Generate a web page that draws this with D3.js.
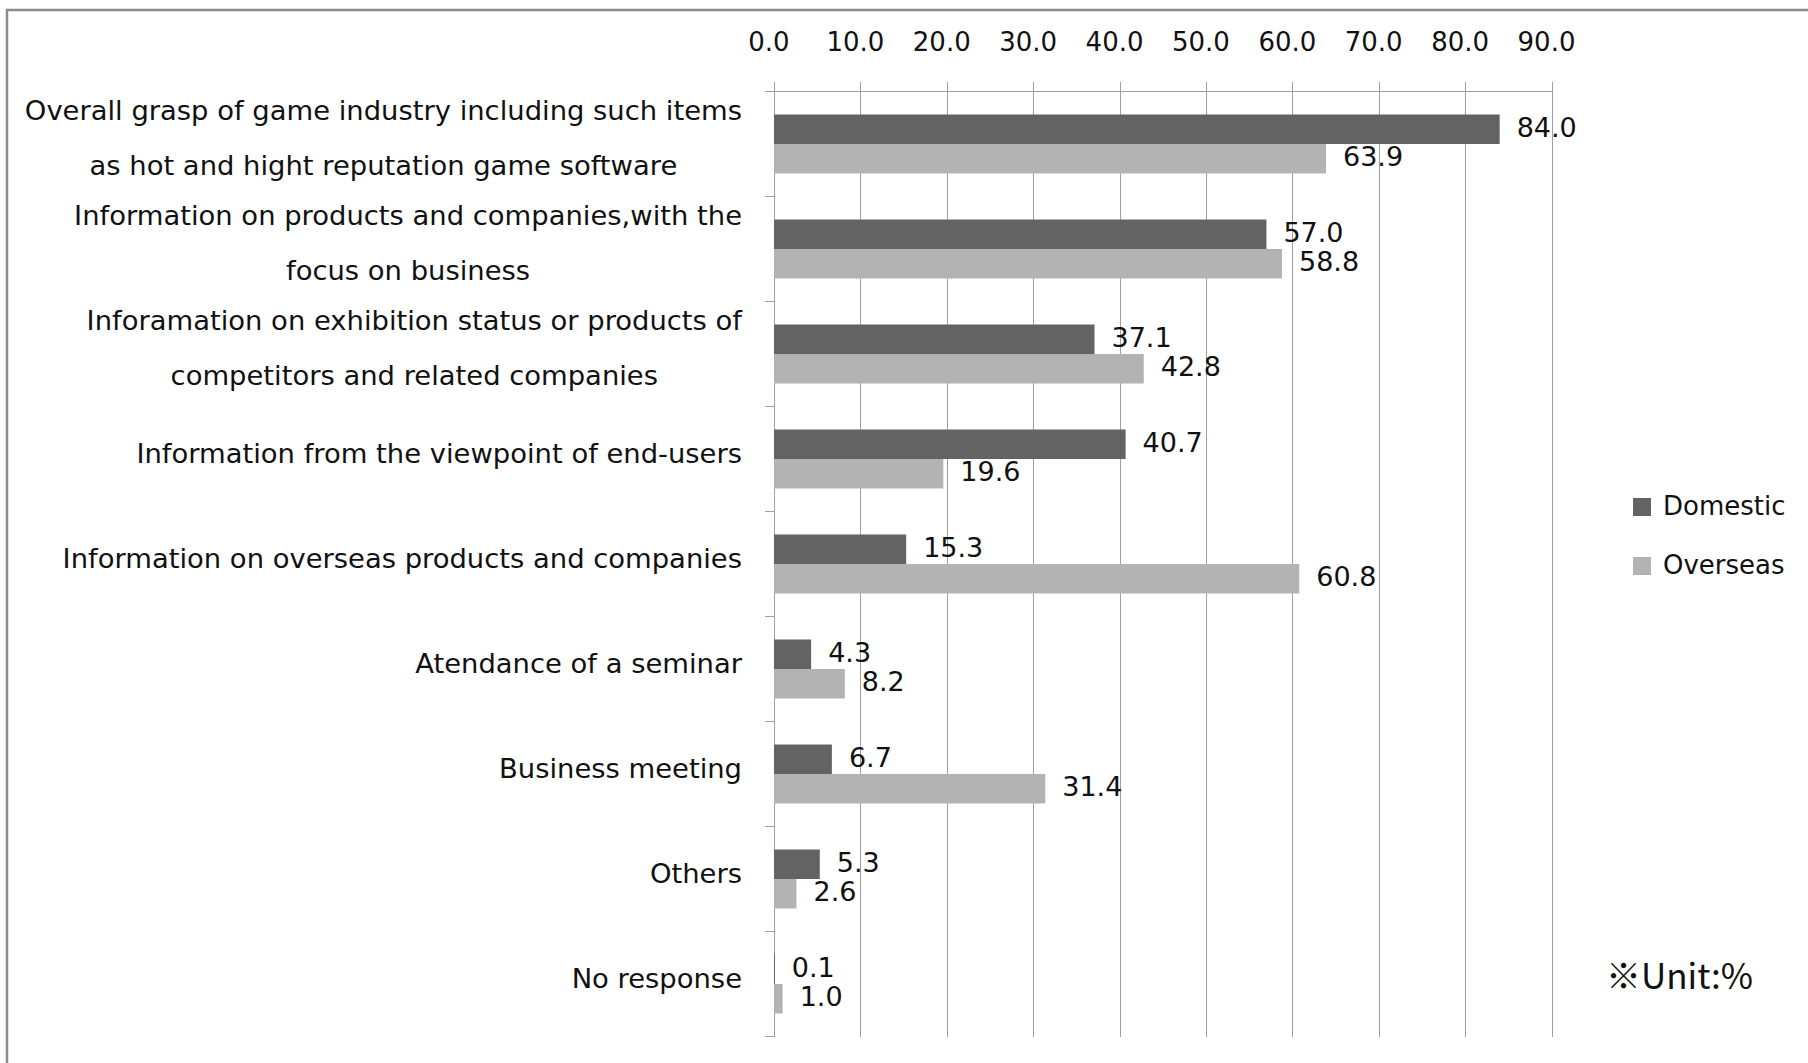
<!DOCTYPE html>
<html>
<head>
<meta charset="utf-8">
<script src="https://cdn.jsdelivr.net/npm/d3@7"></script>
<style>
  html, body { margin: 0; padding: 0; background: #fff; }
  svg { display: block; }
  text { font-family: "DejaVu Sans", sans-serif; fill: #111; }
</style>
</head>
<body>
<svg id="chart" width="1808" height="1063"></svg>
<script>
// Purpose of visiting the show, by visitor type (%)
const categories = [
  "Overall grasp of game industry including such items\nas hot and hight reputation game software",
  "Information on products and companies,with the\nfocus on business",
  "Inforamation on exhibition status or products of\ncompetitors and related companies",
  "Information from the viewpoint of end-users",
  "Information on overseas products and companies",
  "Atendance of a seminar",
  "Business meeting",
  "Others",
  "No response"
];
const seriesNames = ["Domestic", "Overseas"];
const domestic = [84.0, 57.0, 37.1, 40.7, 15.3, 4.3, 6.7, 5.3, 0.1];
const overseas = [63.9, 58.8, 42.8, 19.6, 60.8, 8.2, 31.4, 2.6, 1.0];
const tickValues = [0, 10, 20, 30, 40, 50, 60, 70, 80, 90];
const unitNote = "※Unit:%";

const colors = { Domestic: "#636363", Overseas: "#b3b3b3" };
const seriesValues = { Domestic: domestic, Overseas: overseas };

const svg = d3.select("#chart");
const W = 1808, H = 1063;
svg.append("rect").attr("width", W).attr("height", H).attr("fill", "#fff");

// outer frame (left and top edges visible)
svg.append("rect")
  .attr("x", 7).attr("y", 10).attr("width", W + 20).attr("height", H + 20)
  .attr("fill", "none").attr("stroke", "#8c8c8c").attr("stroke-width", 2.5);

const plot = { left: 774, right: 1551.5, top: 91.5, bottom: 1036.5 };

const x = d3.scaleLinear().domain([0, 90]).range([plot.left, plot.right]);
const pad = 46 / 105;
const y = d3.scaleBand().domain(categories).range([plot.top, plot.bottom])
  .paddingInner(pad).paddingOuter(pad / 2);
const ySub = d3.scaleBand().domain(seriesNames).range([0, y.bandwidth()]);

// vertical gridlines with small tick marks above the top axis
svg.append("g")
  .attr("shape-rendering", "crispEdges")
  .selectAll("line").data(tickValues).join("line")
  .attr("x1", d => Math.round(x(d)) + 0.5).attr("x2", d => Math.round(x(d)) + 0.5)
  .attr("y1", plot.top - 10).attr("y2", plot.bottom)
  .attr("stroke", "#a0a0a0").attr("stroke-width", 1.2);

// top axis line
svg.append("line")
  .attr("shape-rendering", "crispEdges")
  .attr("x1", plot.left - 9).attr("x2", plot.right)
  .attr("y1", plot.top).attr("y2", plot.top)
  .attr("stroke", "#a0a0a0").attr("stroke-width", 1.2);

// category tick marks on the value-zero axis
const boundaries = d3.range(categories.length + 1).map(i => plot.top + i * y.step());
svg.append("g")
  .attr("shape-rendering", "crispEdges")
  .selectAll("line").data(boundaries).join("line")
  .attr("x1", plot.left - 9).attr("x2", plot.left)
  .attr("y1", d => d).attr("y2", d => d)
  .attr("stroke", "#a0a0a0").attr("stroke-width", 1.2);

// tick labels along the top
svg.append("g").selectAll("text").data(tickValues).join("text")
  .attr("x", d => x(d) - 5).attr("y", 42)
  .attr("text-anchor", "middle").attr("dominant-baseline", "central")
  .attr("font-size", 26)
  .text(d => d3.format(".1f")(d));

// bars
const groups = svg.append("g").selectAll("g").data(categories).join("g")
  .attr("transform", d => `translate(0,${y(d)})`);

groups.selectAll("rect")
  .data((d, i) => seriesNames.map(s => ({ s, v: seriesValues[s][i] })))
  .join("rect")
  .attr("x", x(0))
  .attr("y", d => ySub(d.s))
  .attr("width", d => Math.max(1, x(d.v) - x(0)))
  .attr("height", ySub.bandwidth())
  .attr("fill", d => colors[d.s]);

// value labels
groups.selectAll("text.val")
  .data((d, i) => seriesNames.map(s => ({ s, v: seriesValues[s][i] })))
  .join("text").attr("class", "val")
  .attr("x", d => x(d.v) + 17)
  .attr("y", d => ySub(d.s) + ySub.bandwidth() / 2 - 2)
  .attr("dominant-baseline", "central")
  .attr("font-size", 27)
  .text(d => d3.format(".1f")(d.v));

// category labels: lines centred within a block right-aligned to the axis
const labelRight = 742;
const lineGap = 55.5;
categories.forEach(c => {
  const lines = c.split("\n");
  const cy = y(c) + y.bandwidth() / 2 - 6;
  const g = svg.append("g");
  const texts = lines.map((ln, k) => g.append("text")
    .attr("y", cy + (k - (lines.length - 1) / 2) * lineGap)
    .attr("dominant-baseline", "central")
    .attr("text-anchor", "middle")
    .attr("font-size", 27.4)
    .text(ln));
  const maxW = d3.max(texts, t => t.node().getComputedTextLength());
  texts.forEach(t => t.attr("x", labelRight - maxW / 2));
});

// legend
const legend = svg.append("g").selectAll("g").data(seriesNames).join("g")
  .attr("transform", (d, i) => `translate(1633,${506 + i * 59})`);
legend.append("rect")
  .attr("x", 0).attr("y", -8).attr("width", 18).attr("height", 18)
  .attr("fill", d => colors[d]);
legend.append("text")
  .attr("x", 30).attr("y", 0)
  .attr("dominant-baseline", "central")
  .attr("font-size", 26)
  .text(d => d);

// unit note
svg.append("text")
  .attr("x", 1606).attr("y", 973)
  .attr("dominant-baseline", "central")
  .style("font-family", "'Noto Sans CJK JP', sans-serif")
  .attr("font-size", 35)
  .text(unitNote);
</script>
</body>
</html>
